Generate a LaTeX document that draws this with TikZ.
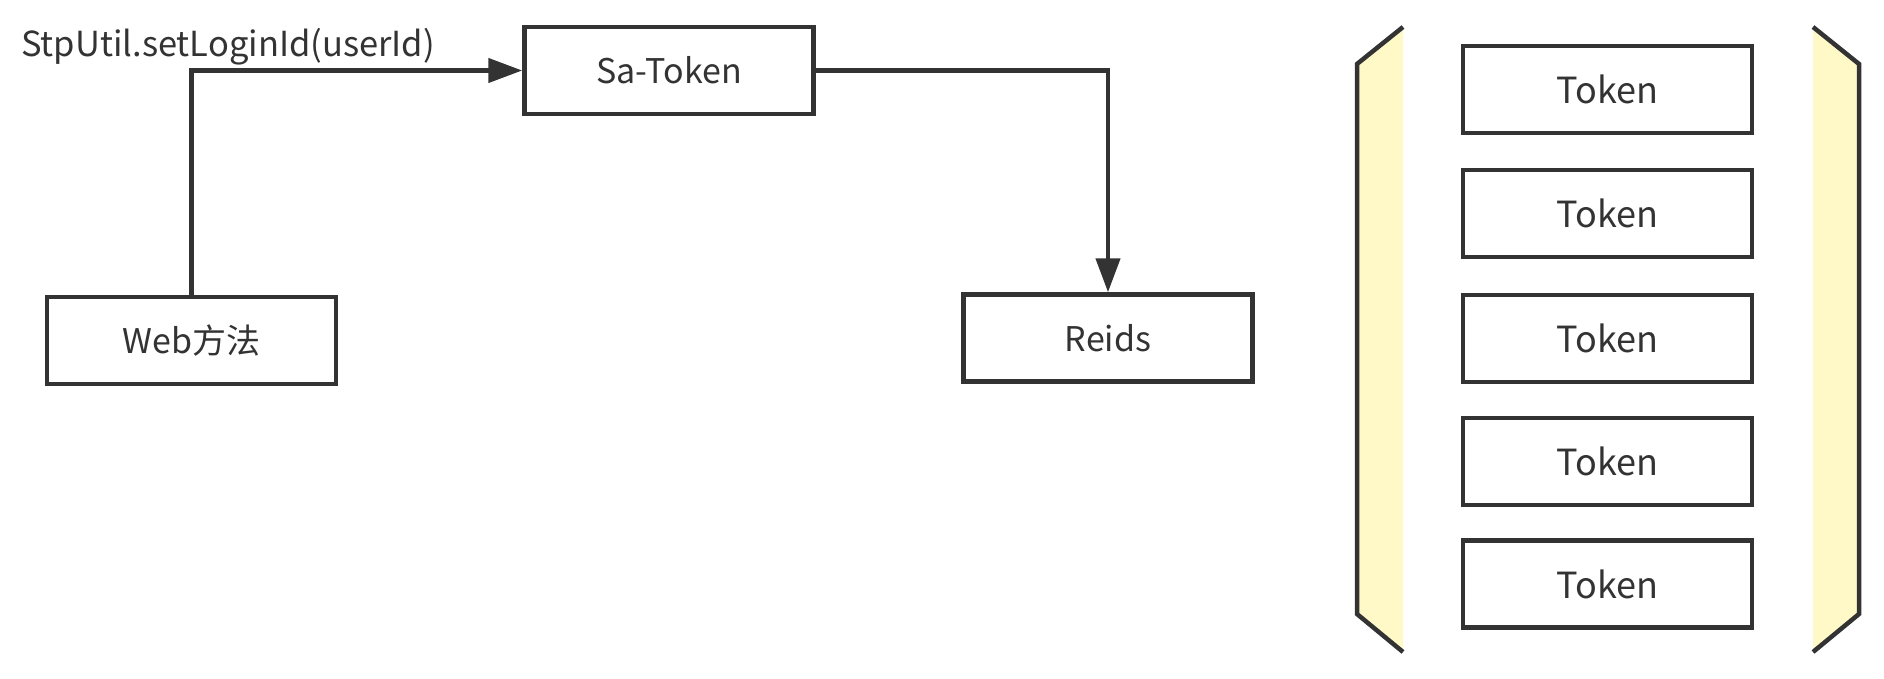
\documentclass[tikz,border=0pt]{standalone}
\usepackage{fontspec}
\setmainfont{Noto Sans CJK SC}
\usetikzlibrary{arrows.meta}
\definecolor{ink}{HTML}{333333}
\definecolor{paleyellow}{RGB}{255,249,199}
\tikzset{
  box/.style={draw=ink, line width=4.5pt, minimum width=289pt, minimum height=87pt,
    inner sep=0pt, text=ink, font=\fontsize{34}{40}\selectfont},
  tokbox/.style={box, font=\fontsize{36}{42}\selectfont},
  conn/.style={draw=ink, line width=4.5pt, -{Triangle[length=34pt,width=24pt]}},
  sidefill/.style={fill=paleyellow, draw=none},
  sideline/.style={draw=ink, line width=4.5pt, line join=miter},
  lbl/.style={text=ink, font=\fontsize{34.5}{40}\selectfont, inner sep=0pt}
}
\begin{document}
\begin{tikzpicture}[x=1pt, y=-1pt]
\useasboundingbox[fill=white] (0,0) rectangle (1884,679);
% left part
\node[box] (web) at (191.5,340.5) {Web方法};
\node[box] (sa) at (669,70.5) {Sa-Token};
\node[box] (reids) at (1108,338) {Reids};
\node[lbl, anchor=base west] (call) at (21,57) {StpUtil.setLoginId(userId)};
\draw[conn] (web.north) |- (sa.west);
\draw[conn] (sa.east) -| (reids.north);
% right part: bracket-like side panels
\fill[sidefill] (1403,27) -- (1357,64) -- (1357,614) -- (1403,652) -- cycle;
\fill[sidefill] (1813,27) -- (1859,64) -- (1859,614) -- (1813,652) -- cycle;
\draw[sideline] (1403,27) -- (1357,64) -- (1357,614) -- (1403,652);
\draw[sideline] (1813,27) -- (1859,64) -- (1859,614) -- (1813,652);
\node[tokbox] (t1) at (1607.5,89.5) {Token};
\node[tokbox] (t2) at (1607.5,213.5) {Token};
\node[tokbox] (t3) at (1607.5,338.5) {Token};
\node[tokbox] (t4) at (1607.5,461.5) {Token};
\node[tokbox] (t5) at (1607.5,584) {Token};
\end{tikzpicture}
\end{document}
